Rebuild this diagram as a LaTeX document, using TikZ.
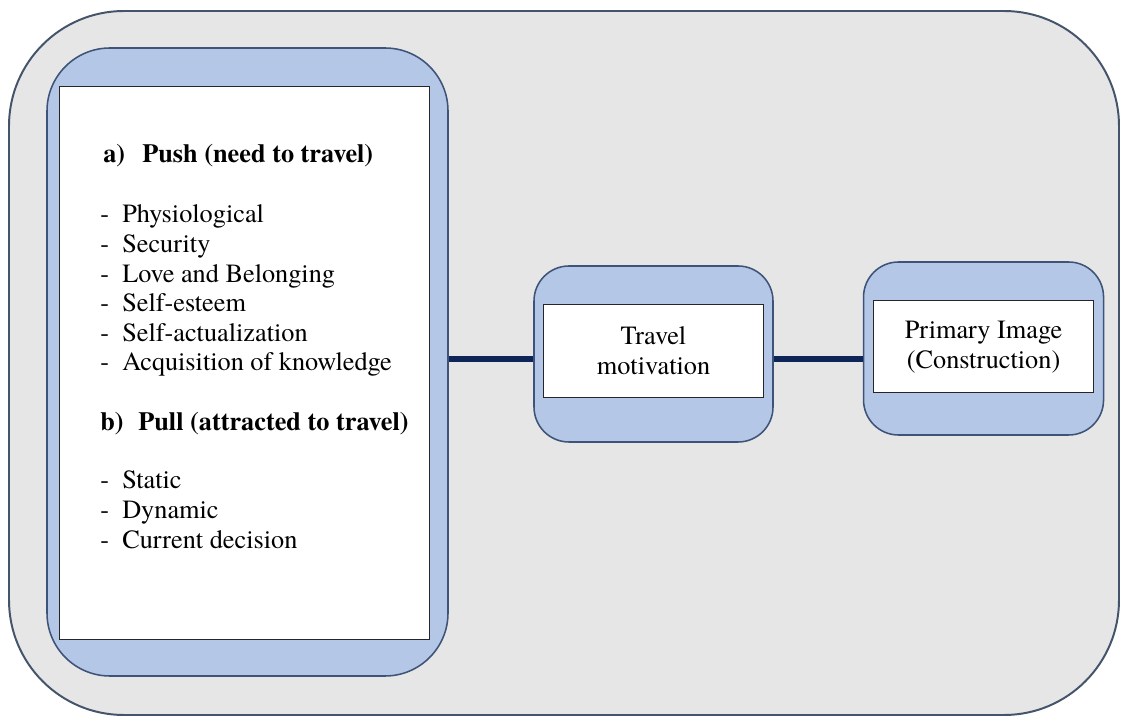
\documentclass[tikz,border=0pt]{standalone}
\usepackage{fontspec}
\setmainfont{texgyretermes}[Extension = .otf, UprightFont = *-regular, BoldFont = *-bold, ItalicFont = *-italic, BoldItalicFont = *-bolditalic]
\usetikzlibrary{positioning}

\definecolor{panelgray}{HTML}{E7E6E6}
\definecolor{panelline}{HTML}{44546A}
\definecolor{boxblue}{HTML}{B4C7E7}
\definecolor{boxline}{HTML}{3D5478}
\definecolor{navy}{HTML}{0E2657}

\begin{document}
\begin{tikzpicture}[
            panel/.style = {draw = panelline, line width = 1.4pt, fill = panelgray, rounded corners = 2.875cm},
            bluebox/.style = {draw = boxline, line width = 1.1pt, fill = boxblue, rounded corners = 0.875cm, inner sep = 0pt},
            textbox/.style = {draw = black!85, line width = 0.6pt, fill = white, inner sep = 0pt, align = center},
            label/.style = {anchor = base west, inner sep = 0pt},
            link/.style = {draw = navy, line width = 3.6pt},
            font = \fontsize{18.7}{21.05}\selectfont,
            node distance = 2.225cm
        ]

        \useasboundingbox (0,0) rectangle (28.05,17.95);
        \draw[panel] (0.225,0.075) rectangle (27.975,17.675);

        % left column: push and pull factors
        \node[bluebox, rounded corners = 1.575cm, minimum width = 10.025cm, minimum height = 15.7cm] (needsbg) at (6.1875,8.9) {};
        \node[textbox, minimum width = 9.25cm, minimum height = 13.825cm] (needs) at (6.1,8.8875) {};

        \node[label] (pushhead) at (2.575,13.875) {\textbf{\makebox[0.975cm][l]{a)}Push (need to travel)}};
        \node[label] (pushlist) at (2.5,12.375) {\begin{tabular}[t]{@{}l@{}}
            \makebox[0.55cm][l]{-}Physiological\\
            \makebox[0.55cm][l]{-}Security\\
            \makebox[0.55cm][l]{-}Love and Belonging\\
            \makebox[0.55cm][l]{-}Self-esteem\\
            \makebox[0.55cm][l]{-}Self-actualization\\
            \makebox[0.55cm][l]{-}Acquisition of knowledge
        \end{tabular}};

        \node[label] (pullhead) at (2.5,7.175) {\textbf{\makebox[0.95cm][l]{b)}Pull (attracted to travel)}};
        \node[label] (pulllist) at (2.5,5.725) {\begin{tabular}[t]{@{}l@{}}
            \makebox[0.55cm][l]{-}Static\\
            \makebox[0.55cm][l]{-}Dynamic\\
            \makebox[0.55cm][l]{-}Current decision
        \end{tabular}};

        % motivation and image
        \node[bluebox, minimum width = 5.975cm, minimum height = 4.4cm] (motivbg) at (16.3375,9.1) {};
        \node[textbox, minimum width = 5.5cm, minimum height = 2.325cm] (motiv) at ([yshift=0.0875cm]motivbg.center) {Travel\\motivation};

        \node[bluebox, minimum width = 6cm, minimum height = 4.325cm] (imagebg) [right=of motivbg, yshift=0.1375cm] {};
        \node[textbox, minimum width = 5.5cm, minimum height = 2.3cm] (image) at ([yshift=0.04cm]imagebg.center) {Primary Image\\(Construction)};

        \draw[link, transform canvas={yshift=-0.125cm}] (motivbg.west) -- (motivbg.west -| needsbg.east);
        \draw[link, transform canvas={yshift=-0.125cm}] (motivbg.east) -- (motivbg.east -| imagebg.west);

    \end{tikzpicture}
\end{document}
